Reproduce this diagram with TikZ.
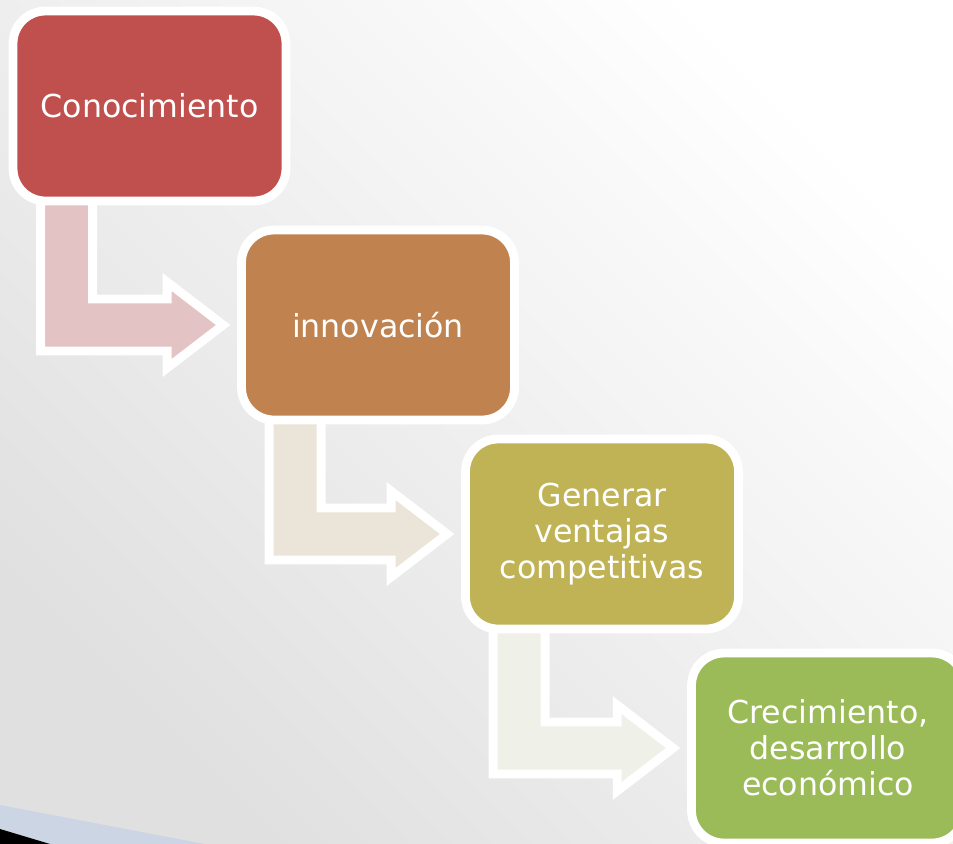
\documentclass[tikz,border=0pt]{standalone}
\usepackage{fontspec}
\setmainfont{DejaVu Sans}
\usetikzlibrary{calc,backgrounds}

\definecolor{rojo}{HTML}{C0504D}
\definecolor{cobre}{HTML}{C0834F}
\definecolor{oliva}{HTML}{BFB356}
\definecolor{verde}{HTML}{9BBB59}
\definecolor{rojoclaro}{HTML}{E3C3C4}
\definecolor{cobreclaro}{HTML}{EBE5D9}
\definecolor{olivaclaro}{HTML}{EFF1E9}
\definecolor{fondo}{HTML}{E0E0E0}
\definecolor{azulfranja}{HTML}{CBD5E3}

\tikzset{
  box/.style={draw=white, line width=5pt, rounded corners=0.65cm,
    minimum width=5.46cm, minimum height=3.8cm, inner sep=0pt,
    text=white, align=center, font=\fontsize{18}{20.4}\selectfont},
  bent/.style={draw=white, line width=5pt, line join=miter}
}

\newcommand{\bentarrow}[3]{%
  \path (#1.south west) ++(32,-10) coordinate (s1) ++(52,0) coordinate (s2)
        (#2.west) ++(-14,0) coordinate (tip);
  \draw[bent, fill=#3] (s2) -- ($(s2 |- tip)+(0,-26)$) -- ($(tip)+(-56,-26)$)
    -- ($(tip)+(-56,-43)$) -- (tip) -- ($(tip)+(-56,43)$) -- ($(tip)+(-56,26)$)
    -- ($(s1 |- tip)+(0,26)$) -- (s1) -- cycle;
}

\begin{document}
\begin{tikzpicture}[x=0.02cm,y=-0.02cm]
\useasboundingbox (0,0) rectangle (953,843);

\begin{scope}[every node/.style={box}]
    \node[fill=rojo] (con) at (149.5,106) {Conocimiento};
    \node[fill=cobre] (inn) at (378,325) {innovación};
    \node[fill=oliva] (gen) at (602,534) {Generar\\ventajas\\competitivas};
    \node[fill=verde] (cre) at (828,748) {Crecimiento,\\desarrollo\\económico};
\end{scope}

\begin{scope}[on background layer]
    \shade[top color=white, bottom color=fondo, shading angle=-45] (0,0) rectangle (953,843);
    \fill[azulfranja] (0,805) -- (220,847) -- (0,847) -- cycle;
    \fill[black] (0,829) -- (60,847) -- (0,847) -- cycle;
    \bentarrow{con}{inn}{rojoclaro}
    \bentarrow{inn}{gen}{cobreclaro}
    \bentarrow{gen}{cre}{olivaclaro}
\end{scope}
\end{tikzpicture}
\end{document}
